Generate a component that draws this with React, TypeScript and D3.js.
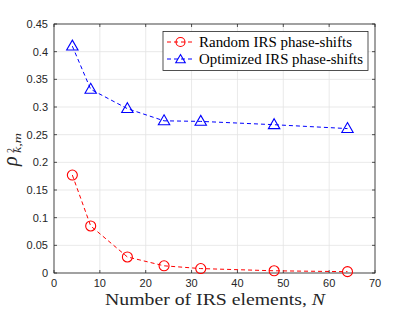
import React from "react";
import * as d3 from "d3";

const nValues = [4, 8, 16, 24, 32, 48, 64];
const randomRho = [0.177, 0.085, 0.029, 0.013, 0.008, 0.004, 0.0024];
const optimizedRho = [0.41, 0.332, 0.297, 0.275, 0.274, 0.268, 0.261];
const xTicks = [0, 10, 20, 30, 40, 50, 60, 70];
const yTicks = [0, 0.05, 0.1, 0.15, 0.2, 0.25, 0.3, 0.35, 0.4, 0.45];
const legendLabels = ["Random IRS phase-shifts", "Optimized IRS phase-shifts"];

const W = 415, H = 312;
const L = 54, R = 375, T = 24, B = 273;

export default function App() {
  const x = d3.scaleLinear().domain([0, 70]).range([L, R]);
  const y = d3.scaleLinear().domain([0, 0.45]).range([B, T]);
  const line = d3.line<[number, number]>().x(d => x(d[0])).y(d => y(d[1]));
  const redPts: [number, number][] = nValues.map((n, i) => [n, randomRho[i]]);
  const bluePts: [number, number][] = nValues.map((n, i) => [n, optimizedRho[i]]);
  const tri = (cx: number, cy: number, s = 6) =>
    `M${cx},${cy - s} L${cx + s * 0.95},${cy + s * 0.65} L${cx - s * 0.95},${cy + s * 0.65} Z`;
  const latex = "'Liberation Serif', 'DejaVu Serif', serif";
  const sans = "'Liberation Sans', Arial, sans-serif";
  return (
    <svg width={W} height={H} style={{ position: "absolute", left: 0, top: 0, background: "#fff" }}>
      <rect x={0} y={0} width={W} height={H} fill="#fff" />
      {/* grid */}
      {xTicks.map(t => (
        <line key={"gx" + t} x1={x(t)} x2={x(t)} y1={T} y2={B} stroke="#e3e3e3" strokeWidth={0.8} />
      ))}
      {yTicks.map(t => (
        <line key={"gy" + t} x1={L} x2={R} y1={y(t)} y2={y(t)} stroke="#e3e3e3" strokeWidth={0.8} />
      ))}
      {/* axes box */}
      <rect x={L} y={T} width={R - L} height={B - T} fill="none" stroke="#262626" strokeWidth={0.8} />
      {xTicks.map(t => (
        <g key={"tx" + t}>
          <line x1={x(t)} x2={x(t)} y1={B} y2={B - 3} stroke="#262626" strokeWidth={0.8} />
          <line x1={x(t)} x2={x(t)} y1={T} y2={T + 3} stroke="#262626" strokeWidth={0.8} />
          <text x={x(t)} y={B + 14} textAnchor="middle" fontSize={11} fontFamily={sans} fill="#262626">{t}</text>
        </g>
      ))}
      {yTicks.map(t => (
        <g key={"ty" + t}>
          <line x1={L} x2={L + 3} y1={y(t)} y2={y(t)} stroke="#262626" strokeWidth={0.8} />
          <line x1={R} x2={R - 3} y1={y(t)} y2={y(t)} stroke="#262626" strokeWidth={0.8} />
          <text x={L - 6} y={y(t) + 4} textAnchor="end" fontSize={11} fontFamily={sans} fill="#262626">{String(t)}</text>
        </g>
      ))}
      {/* series */}
      <path d={line(redPts) || ""} fill="none" stroke="#ff0000" strokeWidth={1} strokeDasharray="4,3" />
      {redPts.map((p, i) => (
        <circle key={"r" + i} cx={x(p[0])} cy={y(p[1])} r={5} fill="none" stroke="#ff0000" strokeWidth={1.1} />
      ))}
      <path d={line(bluePts) || ""} fill="none" stroke="#0000ff" strokeWidth={1} strokeDasharray="4,3" />
      {bluePts.map((p, i) => (
        <path key={"b" + i} d={tri(x(p[0]), y(p[1]))} fill="none" stroke="#0000ff" strokeWidth={1.1} />
      ))}
      {/* legend */}
      <rect x={163} y={31.5} width={205} height={39} fill="#fff" stroke="#262626" strokeWidth={0.8} />
      <line x1={167} x2={194} y1={42} y2={42} stroke="#ff0000" strokeWidth={1} strokeDasharray="4,3" />
      <circle cx={180.5} cy={42} r={4.5} fill="none" stroke="#ff0000" strokeWidth={1.1} />
      <text x={199} y={46.5} fontSize={15} fontFamily={latex} fill="#000" textLength={153} lengthAdjust="spacingAndGlyphs">{legendLabels[0]}</text>
      <line x1={167} x2={194} y1={59} y2={59} stroke="#0000ff" strokeWidth={1} strokeDasharray="4,3" />
      <path d={tri(180.5, 59.5, 5)} fill="none" stroke="#0000ff" strokeWidth={1.1} />
      <text x={199} y={63.5} fontSize={15} fontFamily={latex} fill="#000" textLength={164} lengthAdjust="spacingAndGlyphs">{legendLabels[1]}</text>
      {/* axis labels */}
      <text x={105} y={305} fontSize={17} fontFamily={latex} fill="#262626" textLength={220} lengthAdjust="spacingAndGlyphs">
        Number of IRS elements, <tspan fontStyle="italic">N</tspan>
      </text>
      <g transform="translate(17,150) rotate(-90)">
        <text x={-16} y={0} fontSize={20} fontFamily={latex} fill="#262626" fontStyle="italic">ρ</text>
        <text x={-3} y={-3} fontSize={10} fontFamily={latex} fill="#262626">2</text>
        <text x={-3} y={4} fontSize={11} fontFamily={latex} fill="#262626" fontStyle="italic" textLength={20} lengthAdjust="spacingAndGlyphs">k,m</text>
      </g>
    </svg>
  );
}
